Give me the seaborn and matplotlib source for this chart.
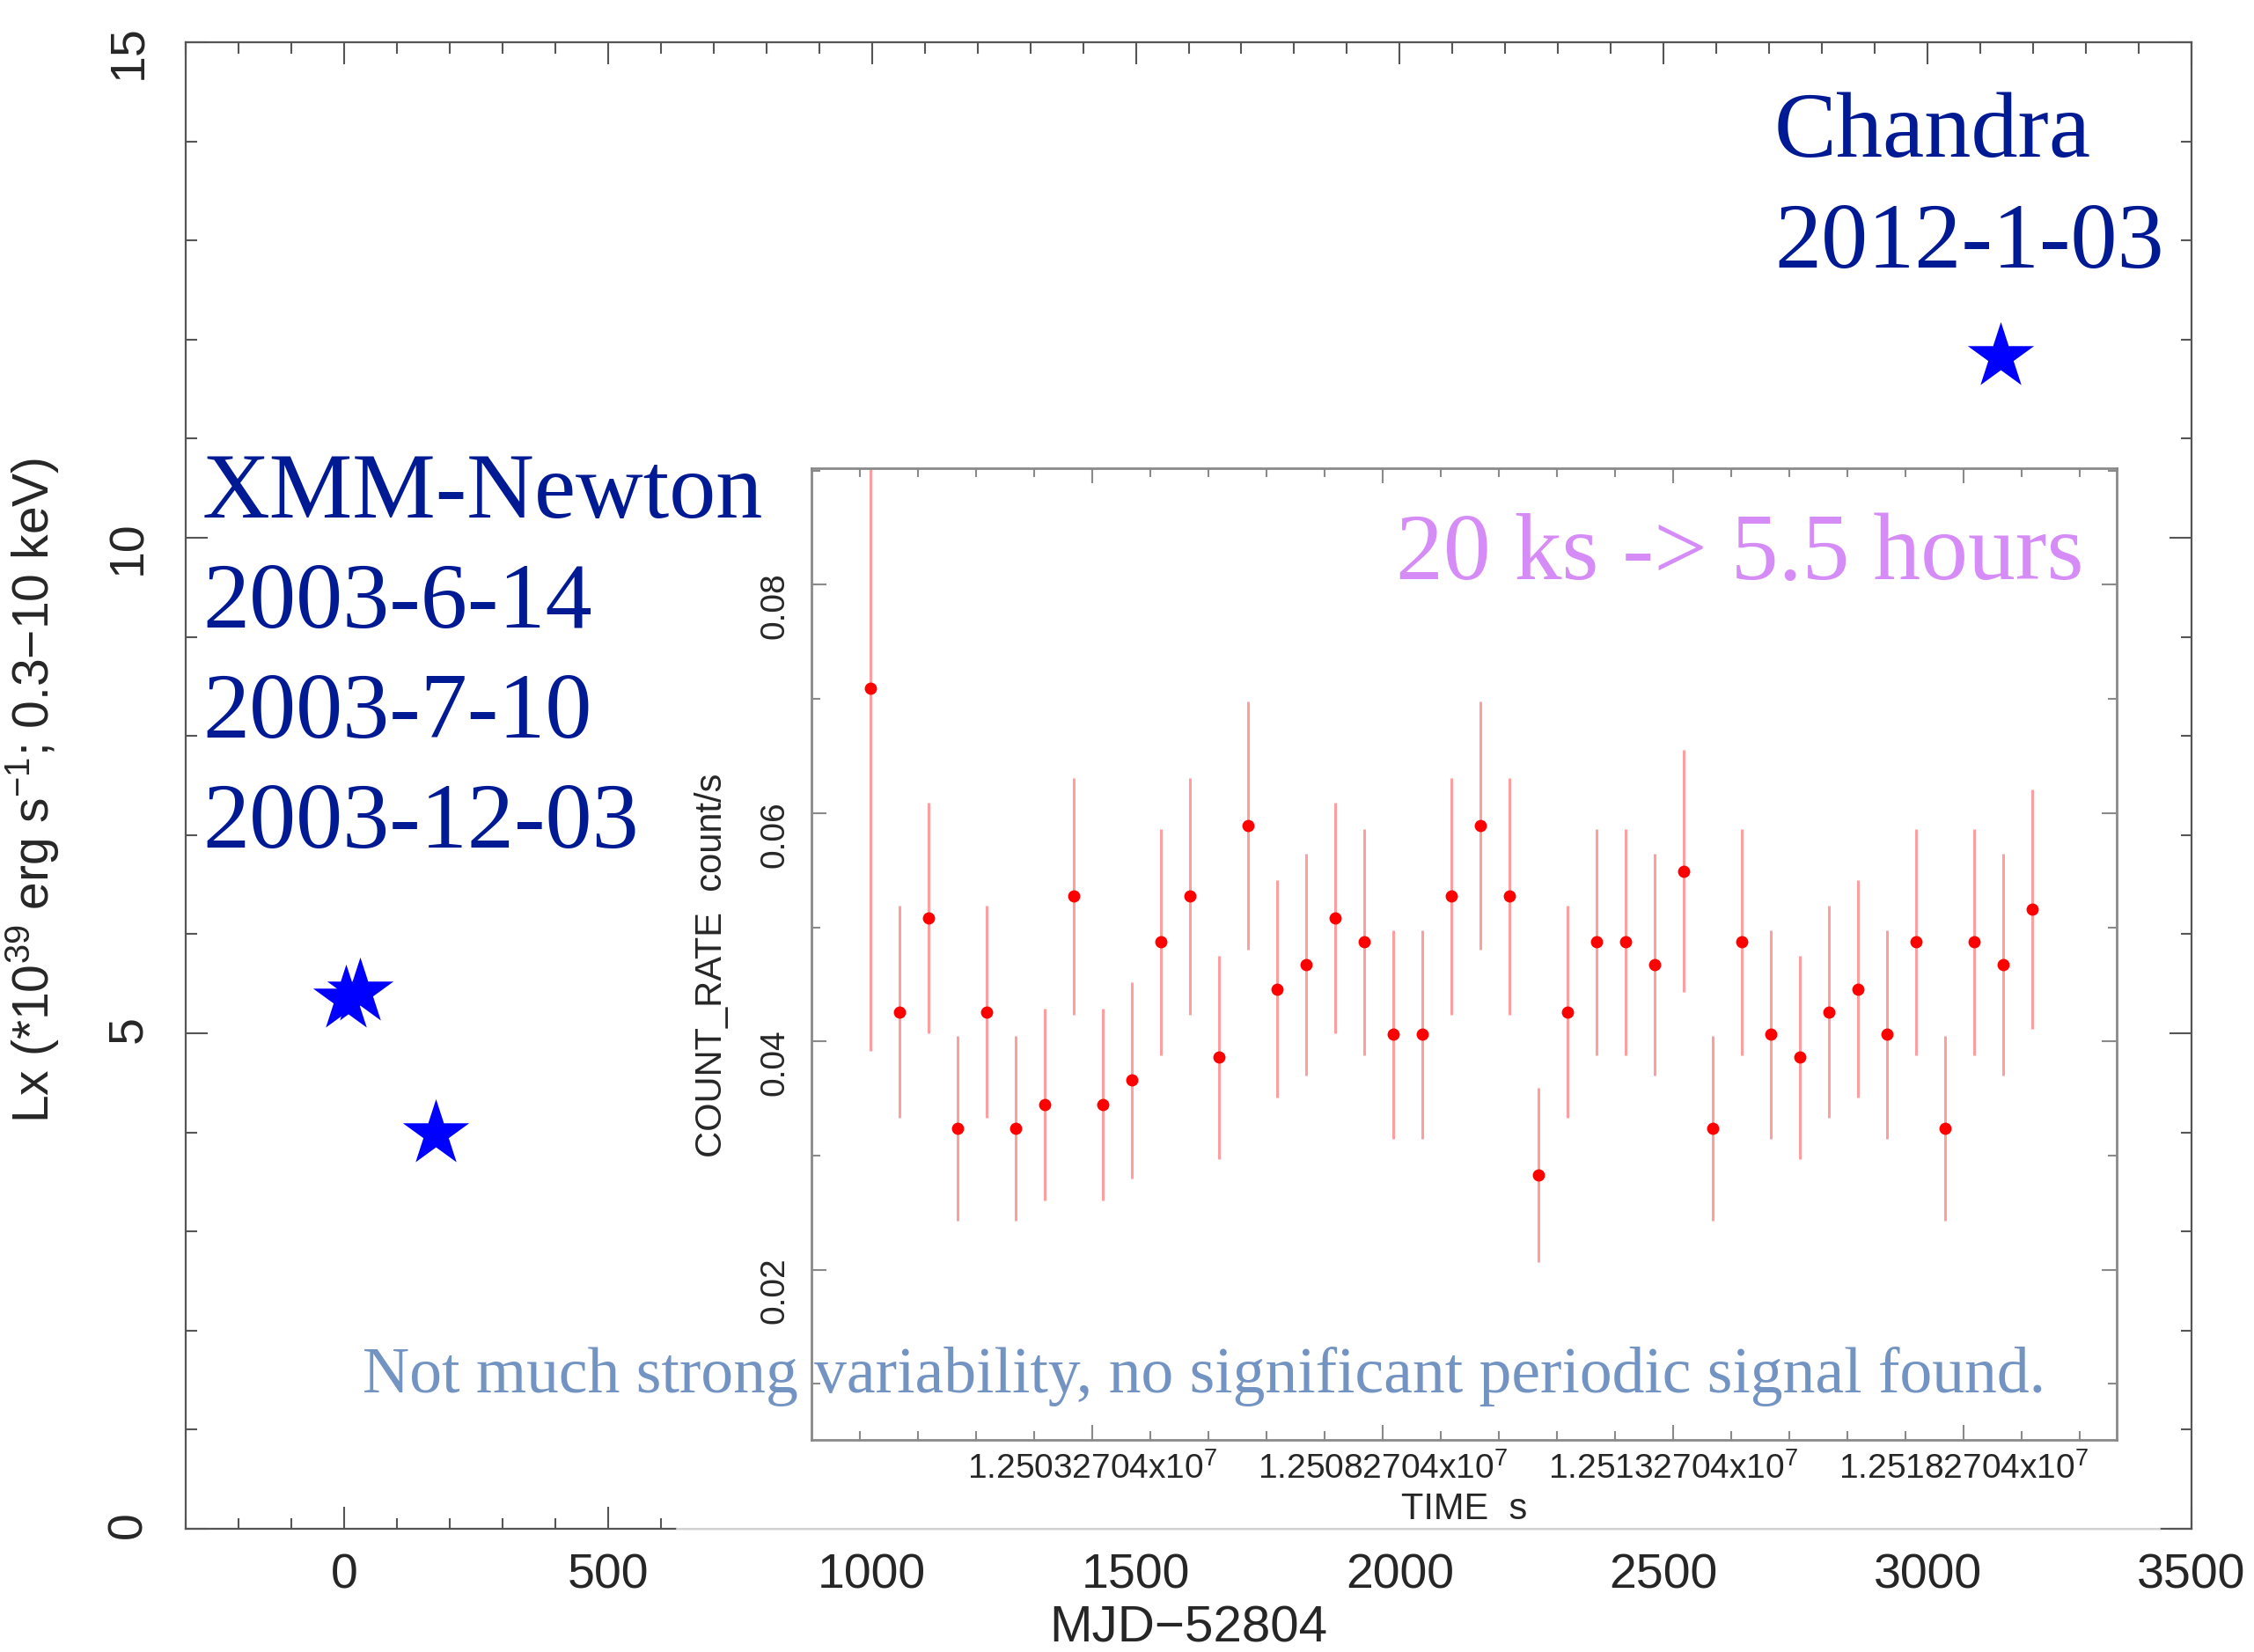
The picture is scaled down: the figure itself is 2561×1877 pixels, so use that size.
import numpy as np
import pandas as pd
import seaborn as sns
import matplotlib.pyplot as plt
from matplotlib import font_manager
from matplotlib.ticker import MultipleLocator, FixedLocator, FixedFormatter
from matplotlib.patches import Rectangle
from matplotlib.lines import Line2D

# long term light curve: days since MJD 52804, Lx in 1e39 erg/s
obs_mjd = [3, 30, 174, 3139]
obs_lx = [5.35, 5.42, 3.99, 11.83]
obs_mission = ['XMM-Newton', 'XMM-Newton', 'XMM-Newton', 'Chandra']

xmm_dates = ['2003-6-14', '2003-7-10', '2003-12-03']
chandra_dates = ['2012-1-03']

# inset: 500 s binned light curve
bin_time = [12499452, 12499952, 12500452, 12500952, 12501452, 12501952, 12502452,
            12502952, 12503452, 12503952, 12504452, 12504952, 12505452, 12505952,
            12506452, 12506952, 12507452, 12507952, 12508452, 12508952, 12509452,
            12509952, 12510452, 12510952, 12511452, 12511952, 12512452, 12512952,
            12513452, 12513952, 12514452, 12514952, 12515452, 12515952, 12516452,
            12516952, 12517452, 12517952, 12518452, 12518952, 12519452]
rate = [0.0709, 0.0426, 0.0508, 0.0324, 0.0426, 0.0324, 0.0345, 0.0527, 0.0345,
        0.0366, 0.0487, 0.0527, 0.0386, 0.0589, 0.0446, 0.0467, 0.0508, 0.0487,
        0.0406, 0.0406, 0.0527, 0.0589, 0.0527, 0.0283, 0.0426, 0.0487, 0.0487,
        0.0467, 0.0549, 0.0324, 0.0487, 0.0406, 0.0386, 0.0426, 0.0446, 0.0406,
        0.0487, 0.0324, 0.0487, 0.0467, 0.0516]
rate_err = [0.0317, 0.0093, 0.0101, 0.0081, 0.0093, 0.0081, 0.0084, 0.0104, 0.0084,
            0.0086, 0.0099, 0.0104, 0.0089, 0.0109, 0.0095, 0.0097, 0.0101, 0.0099,
            0.0091, 0.0091, 0.0104, 0.0109, 0.0104, 0.0076, 0.0093, 0.0099, 0.0099,
            0.0097, 0.0106, 0.0081, 0.0099, 0.0091, 0.0089, 0.0093, 0.0095, 0.0091,
            0.0099, 0.0081, 0.0099, 0.0097, 0.0105]
time_ticks = [12503270.4, 12508270.4, 12513270.4, 12518270.4]
time_tick_labels = ['1.25032704x10$^7$', '1.25082704x10$^7$',
                    '1.25132704x10$^7$', '1.25182704x10$^7$']

sns.set_style('ticks')
plt.rcParams['font.family'] = ['Liberation Sans', 'DejaVu Sans']
plt.rcParams['mathtext.fontset'] = 'custom'
plt.rcParams['mathtext.rm'] = 'Liberation Sans'
plt.rcParams['mathtext.it'] = 'Liberation Sans:italic'
plt.rcParams['mathtext.bf'] = 'Liberation Sans:bold'

names = {f.name for f in font_manager.fontManager.ttflist}
narrow = 'Liberation Sans Narrow' if 'Liberation Sans Narrow' in names else 'Liberation Sans'
serif = ['Liberation Serif', 'DejaVu Serif']

W, H = 2561, 1877
fig = plt.figure(figsize=(W / 100, H / 100), dpi=100)


def box(l, t, r, b):
    return [l / W, 1 - b / H, (r - l) / W, (b - t) / H]


# main panel
ax = fig.add_axes(box(211, 48, 2490, 1737))
df = pd.DataFrame({'mjd': obs_mjd, 'lx': obs_lx, 'mission': obs_mission})
sns.scatterplot(data=df, x='mjd', y='lx', marker='*', s=57 ** 2, color='#0000ff',
                linewidth=0, legend=False, ax=ax, zorder=3)
ax.set_xlim(-300, 3500)
ax.set_ylim(0, 15)
ax.xaxis.set_major_locator(MultipleLocator(500))
ax.xaxis.set_minor_locator(MultipleLocator(100))
ax.yaxis.set_major_locator(MultipleLocator(5))
ax.yaxis.set_minor_locator(MultipleLocator(1))
ax.tick_params(which='both', direction='in', top=True, right=True,
               color='#555555', width=1.5, labelsize=40)
ax.tick_params(which='major', length=18)
ax.tick_params(which='minor', length=9)
ax.tick_params(axis='x', pad=20)
ax.tick_params(axis='y', pad=28, labelrotation=90)
for sp in ax.spines.values():
    sp.set_color('#555555')
    sp.set_linewidth(1.6)
ax.set_xlabel('MJD\u221252804', fontsize=42)
ax.xaxis.set_label_coords(0.5, -0.051)
ax.set_ylabel('Lx (*10$^{39}$ erg s$^{-1}$; 0.3\u221210 keV)', fontsize=41)
ax.yaxis.set_label_coords(-0.0619, 0.497)

# white background of the pasted light curve
fig.add_artist(Rectangle((769 / W, 1 - 1737 / H), (2454 - 769) / W, (1737 - 520) / H,
                         transform=fig.transFigure, facecolor='white',
                         edgecolor='none', zorder=1))
fig.add_artist(Line2D([769 / W, 2454 / W], [1 - 1737 / H, 1 - 1737 / H],
                      transform=fig.transFigure, color='#d2d2d2', lw=1.5, zorder=1.1))

# inset light curve
ax_in = fig.add_axes(box(922, 532, 2405, 1636), zorder=2)
ax_in.set_facecolor('white')
ax_in.errorbar(bin_time, rate, yerr=rate_err, fmt='none', ecolor='#ff9e9e',
               elinewidth=2.2, capsize=0, zorder=2)
sns.scatterplot(x=bin_time, y=rate, color='#ff0000', s=10 ** 2, linewidth=0,
                ax=ax_in, zorder=3)
ax_in.set_xlim(12498437, 12520906)
ax_in.set_ylim(0.0051, 0.0902)
ax_in.xaxis.set_major_locator(FixedLocator(time_ticks))
ax_in.xaxis.set_major_formatter(FixedFormatter(time_tick_labels))
ax_in.xaxis.set_minor_locator(FixedLocator([time_ticks[0] + 1000 * k for k in range(-5, 18)]))
ax_in.yaxis.set_major_locator(MultipleLocator(0.02))
ax_in.yaxis.set_minor_locator(MultipleLocator(0.01))
ax_in.tick_params(which='both', direction='in', top=True, right=True,
                  color='#8a8a8a', width=1.5, labelsize=28, labelfontfamily=narrow)
ax_in.tick_params(which='major', length=12)
ax_in.tick_params(which='minor', length=7)
ax_in.tick_params(axis='x', pad=10)
ax_in.tick_params(axis='y', pad=17, labelrotation=90)
for sp in ax_in.spines.values():
    sp.set_color('#8a8a8a')
    sp.set_linewidth(2)
ax_in.set_xlabel('TIME  s', fontsize=30, family=narrow)
ax_in.xaxis.set_label_coords(0.5, -0.0534)
ax_in.set_ylabel('COUNT_RATE  count/s', fontsize=30, family=narrow)
ax_in.yaxis.set_label_coords(-0.0627, 0.488)

# annotations
navy = '#001a94'
for i, line in enumerate(['XMM-Newton'] + xmm_dates):
    fig.text(230 / W, 1 - (588 + 125 * i) / H, line, ha='left', va='baseline',
             fontsize=76.5, family=serif, color=navy, zorder=5)
for i, line in enumerate(['Chandra'] + chandra_dates):
    fig.text(2016 / W, 1 - (178 + 126 * i) / H, line, ha='left', va='baseline',
             fontsize=76.5, family=serif, color=navy, zorder=5)
fig.text(2368 / W, 1 - 658 / H, '20 ks -> 5.5 hours', ha='right', va='baseline',
         fontsize=77.5, family=serif, color='#d68cf7', zorder=5)
fig.text(412 / W, 1 - 1582 / H,
         'Not much strong variability, no significant periodic signal found.',
         ha='left', va='baseline', fontsize=53, family=serif, color='#7393c2', zorder=5)

fig.savefig('out.png', dpi=100)
